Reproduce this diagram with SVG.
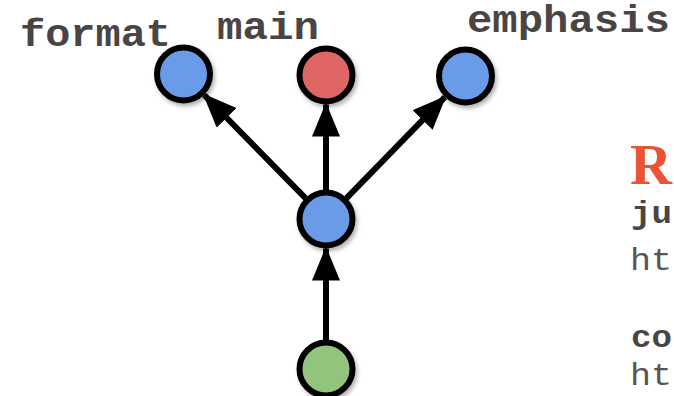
<svg xmlns="http://www.w3.org/2000/svg" width="674" height="396" viewBox="0 0 674 396">
  <defs>
    <style>
      .label { font-family: "Liberation Mono", "Courier New", monospace; font-weight: bold; font-size: 38px; fill: #4a4544; }
      .side-b { font-family: "Liberation Mono", "Courier New", monospace; font-weight: bold; font-size: 32px; fill: #4a4544; }
      .side-r { font-family: "Liberation Mono", "Courier New", monospace; font-size: 32px; fill: #5a5554; }
      .title { font-family: "Liberation Serif", "Times New Roman", serif; font-weight: bold; font-size: 56px; fill: #ec5334; }
      .node { stroke: #000; stroke-width: 6; filter: url(#shadow); }
      .blue { fill: #6b9be8; }
      .red { fill: #e06666; }
      .green { fill: #93c47d; }
      .edge { stroke: #000; stroke-width: 6; fill: none; marker-end: url(#head); }
    </style>
    <filter id="shadow" x="-30%" y="-30%" width="170%" height="170%">
      <feDropShadow dx="2" dy="3" stdDeviation="2" flood-color="#000" flood-opacity="0.3"/>
    </filter>
    <marker id="head" markerUnits="userSpaceOnUse" markerWidth="34" markerHeight="28" refX="32" refY="14" orient="auto">
      <path d="M0,0 L34,14 L0,28 z" fill="#000"/>
    </marker>
  </defs>

  <rect width="674" height="396" fill="#fff"/>

  <!-- connectors: child commit points to its parents -->
  <g id="connectors">
    <line class="edge" x1="305.7" y1="198.3" x2="204.2" y2="95.0"/>
    <line class="edge" x1="326" y1="190" x2="326" y2="104.5"/>
    <line class="edge" x1="346.3" y1="198.3" x2="444.9" y2="97.1"/>
    <line class="edge" x1="326" y1="340" x2="326" y2="248.5"/>
  </g>

  <g id="node-format">
    <circle class="node blue" cx="183.5" cy="74" r="26.5"/>
    <text class="label" x="20" y="46" textLength="151" lengthAdjust="spacingAndGlyphs">format</text>
  </g>
  <g id="node-main">
    <circle class="node red" cx="326" cy="75" r="26.5"/>
    <text class="label" x="217" y="39" textLength="102" lengthAdjust="spacingAndGlyphs">main</text>
  </g>
  <g id="node-emphasis">
    <circle class="node blue" cx="465.5" cy="76" r="26.5"/>
    <text class="label" x="467" y="32" textLength="203" lengthAdjust="spacingAndGlyphs">emphasis</text>
  </g>
  <g id="node-merge">
    <circle class="node blue" cx="326" cy="219" r="26.5"/>
  </g>
  <g id="node-root">
    <circle class="node green" cx="326" cy="369" r="26.5"/>
  </g>

  <!-- side panel text along the right edge -->
  <g id="side-text">
    <text class="title" x="630" y="184" textLength="42" lengthAdjust="spacingAndGlyphs">R</text>
    <text class="side-b" x="631" y="223" textLength="41" lengthAdjust="spacingAndGlyphs">ju</text>
    <text class="side-r" x="630" y="270" textLength="42" lengthAdjust="spacingAndGlyphs">ht</text>
    <text class="side-b" x="631" y="347" textLength="41" lengthAdjust="spacingAndGlyphs">co</text>
    <text class="side-r" x="630" y="385" textLength="42" lengthAdjust="spacingAndGlyphs">ht</text>
  </g>
</svg>
